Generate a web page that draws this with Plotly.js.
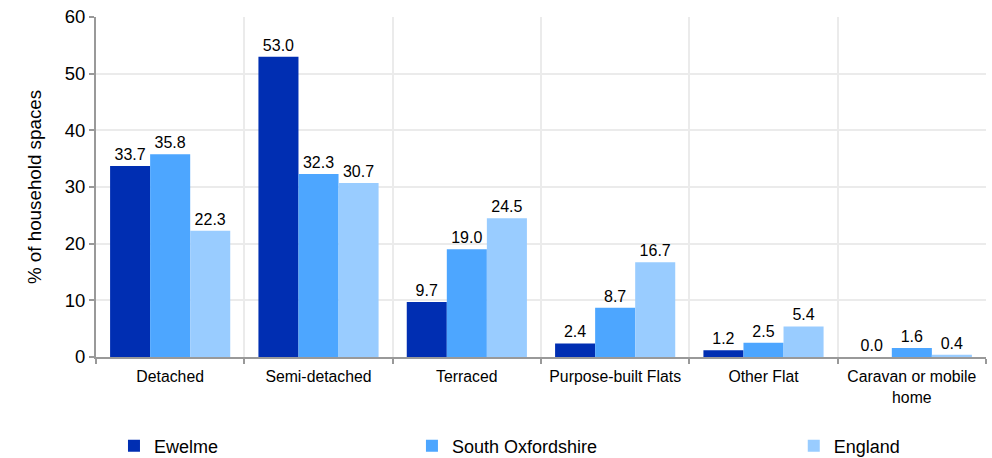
<!DOCTYPE html>
<html>
<head>
<meta charset="utf-8">
<script src="https://cdn.plot.ly/plotly-3.0.1.min.js"></script>
<style>html,body{margin:0;padding:0;background:#fff;}#chart{width:992px;height:458px;}</style>
</head>
<body>
<div id="chart"></div>
<script>
const categories = ["Detached", "Semi-detached", "Terraced", "Purpose-built Flats", "Other Flat", "Caravan or mobile<br>home"];
const seriesNames = ["Ewelme", "South Oxfordshire", "England"];
const ewelme = [33.7, 53.0, 9.7, 2.4, 1.2, 0.0];
const southOxfordshire = [35.8, 32.3, 19.0, 8.7, 2.5, 1.6];
const england = [22.3, 30.7, 24.5, 16.7, 5.4, 0.4];
const yTicks = [0, 10, 20, 30, 40, 50, 60];

const colors = ["#002EB2", "#4DA6FF", "#99CCFF"];
const values = [ewelme, southOxfordshire, england];
const legends = ["legend", "legend2", "legend3"];

const font = "Liberation Sans, Arial, sans-serif";
const traces = values.map((v, i) => ({
  type: "bar",
  name: seriesNames[i],
  x: categories,
  y: v,
  marker: {color: colors[i]},
  text: v.map(d => d.toFixed(1)),
  textposition: "outside",
  texttemplate: "%{text}",
  textfont: {family: font, size: 16, color: "#000"},
  cliponaxis: false,
  legend: legends[i],
  hoverinfo: "x+y"
}));

function leg(x) {
  return {orientation: "h", x: x, xanchor: "left", y: -0.262, yanchor: "middle",
    font: {family: font, size: 18, color: "#000"}, bgcolor: "rgba(0,0,0,0)", itemwidth: 30};
}

const layout = {
  width: 992, height: 458,
  margin: {l: 96, r: 6, t: 17, b: 101, autoexpand: false},
  paper_bgcolor: "#fff", plot_bgcolor: "#fff",
  barmode: "group", bargap: 0.19, bargroupgap: 0,
  font: {family: font, color: "#000"},
  showlegend: true,
  legend: leg(0.0202),
  legend2: leg(0.355),
  legend3: leg(0.784),
  xaxis: {
    type: "category",
    tickson: "boundaries",
    ticks: "outside", ticklen: 5, tickcolor: "#999", tickwidth: 2,
    ticklabelstandoff: 4,
    showline: true, linecolor: "#999", linewidth: 2,
    showgrid: true, gridcolor: "#ebebeb", gridwidth: 2,
    tickfont: {family: font, size: 15.8, color: "#000"},
    automargin: false
  },
  yaxis: {
    range: [0, 60], tickvals: yTicks,
    ticks: "outside", ticklen: 5, tickcolor: "#999", tickwidth: 2,
    showline: true, linecolor: "#999", linewidth: 2,
    showgrid: true, gridcolor: "#ebebeb", gridwidth: 2,
    zeroline: false,
    tickfont: {family: font, size: 18.5, color: "#000"},
    title: {text: "% of household spaces", font: {family: font, size: 18.8, color: "#000"}, standoff: 18},
    automargin: false
  }
};

Plotly.newPlot("chart", traces, layout, {displayModeBar: false, staticPlot: true});
</script>
</body>
</html>
